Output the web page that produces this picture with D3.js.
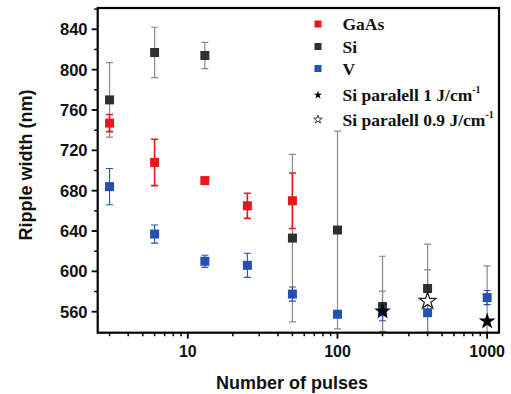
<!DOCTYPE html>
<html><head><meta charset="utf-8">
<script src="https://cdn.jsdelivr.net/npm/d3@7"></script>
<style>body{margin:0;background:#fff}svg{display:block}</style>
</head><body>
<svg id="c" width="511" height="394"></svg>
<script>
// ---- data ----
const gaasX = [3, 6, 13, 25, 50];
const gaasY = [747, 708, 690, 665, 670];
const gaasE = [8.5, 23, 2, 12.5, 27.5];

const siX = [3, 6, 13, 50, 100, 200, 400];
const siY = [770, 817, 814, 633, 641, 565, 583];
const siE = [37, 25, 13, 83, 98, 50, 44];

const vX = [3, 6, 13, 25, 50, 100, 200, 400, 1000];
const vY = [684, 637, 610, 606, 577.5, 557.5, 560, 559, 574];
const vE = [18, 9, 6, 12, 7, 2, 9, 3, 7];

const star1X = [200, 1000];
const star1Y = [560.5, 550.5];
const star1E = [20, 55];

const star2X = [400];
const star2Y = [570.5];
const star2E = [31];

const yTicks = [560, 600, 640, 680, 720, 760, 800, 840];
const yMinor = [580, 620, 660, 700, 740, 780, 820, 860];
const xTicks = [10, 100, 1000];
const xMinor = [3,4,5,6,7,8,9,20,30,40,50,60,70,80,90,200,300,400,500,600,700,800,900];

const legendLabels = ["GaAs", "Si", "V", "Si paralell 1 J/cm", "Si paralell 0.9 J/cm"];

// ---- layout ----
const L = 97.7, R = 499, T = 8, B = 332.7;
const svg = d3.select("#c");
const x = d3.scaleLog().domain([2.5, 1200]).range([L, R]);
const y = d3.scaleLinear().domain([539.2, 861.1]).range([B, T]);

const RED = "#e8161d", DARK = "#303030", BLUE = "#2350b3";

svg.append("defs").append("clipPath").attr("id", "clip")
  .append("rect").attr("x", L).attr("y", T).attr("width", R - L).attr("height", B - T);

const plot = svg.append("g").attr("clip-path", "url(#clip)");

function zip(xs, ys, es) { return xs.map((v, i) => ({x: v, y: ys[i], e: es[i]})); }
const gaas = zip(gaasX, gaasY, gaasE);
const si = zip(siX, siY, siE);
const vv = zip(vX, vY, vE);
const s1 = zip(star1X, star1Y, star1E);
const s2 = zip(star2X, star2Y, star2E);

function errBars(data, color, w, cap) {
  const g = plot.append("g").attr("stroke", color).attr("stroke-width", w).attr("fill", "none");
  data.forEach(d => {
    g.append("line").attr("x1", x(d.x)).attr("x2", x(d.x)).attr("y1", y(d.y - d.e)).attr("y2", y(d.y + d.e));
    [d.y - d.e, d.y + d.e].forEach(v => {
      g.append("line").attr("x1", x(d.x) - cap).attr("x2", x(d.x) + cap).attr("y1", y(v)).attr("y2", y(v));
    });
  });
}
errBars(si, "#8a8a8a", 1.2, 3.5);
errBars(s1, "#8a8a8a", 1.2, 3.5);
errBars(s2, "#8a8a8a", 1.2, 3.5);
errBars(gaas, RED, 1.6, 3.5);
errBars(vv, BLUE, 1.1, 3.5);

function squares(data, color) {
  plot.append("g").selectAll("rect").data(data).join("rect")
    .attr("x", d => x(d.x) - 4.5).attr("y", d => y(d.y) - 4.5)
    .attr("width", 9).attr("height", 9).attr("fill", color);
}
squares(gaas, RED);
squares(si, DARK);
squares(vv, BLUE);

const starBig = d3.symbol().type(d3.symbolStar).size(88);
plot.append("g").selectAll("path").data(s1).join("path")
  .attr("transform", d => `translate(${x(d.x)},${y(d.y)})`)
  .attr("d", starBig).attr("fill", "#000");
plot.append("g").selectAll("path").data(s2).join("path")
  .attr("transform", d => `translate(${x(d.x)},${y(d.y)})`)
  .attr("d", starBig).attr("fill", "#fff").attr("stroke", "#222").attr("stroke-width", 1.2);

// ---- axes ----
const ax = svg.append("g").attr("stroke", "#000");
ax.append("rect").attr("x", L).attr("y", T).attr("width", R - L).attr("height", B - T)
  .attr("fill", "none").attr("stroke-width", 2.2);
yTicks.forEach(v => ax.append("line").attr("x1", L - 6).attr("x2", L).attr("y1", y(v)).attr("y2", y(v)).attr("stroke-width", 1.8));
yMinor.forEach(v => ax.append("line").attr("x1", L - 3.5).attr("x2", L).attr("y1", y(v)).attr("y2", y(v)).attr("stroke-width", 1.5));
xTicks.forEach(v => ax.append("line").attr("x1", x(v)).attr("x2", x(v)).attr("y1", B).attr("y2", B + 6).attr("stroke-width", 1.8));
xMinor.forEach(v => ax.append("line").attr("x1", x(v)).attr("x2", x(v)).attr("y1", B).attr("y2", B + 3.5).attr("stroke-width", 1.5));

const sans = "'Liberation Sans', Arial, sans-serif";
svg.append("g").selectAll("text").data(yTicks).join("text")
  .attr("x", 87.5).attr("y", d => y(d)).attr("dy", "0.36em").attr("text-anchor", "end")
  .attr("font-family", sans).attr("font-weight", "bold").attr("font-size", 16.5).attr("fill", "#111")
  .text(d => d);
svg.append("g").selectAll("text").data(xTicks).join("text")
  .attr("x", d => x(d)).attr("y", 357).attr("text-anchor", "middle")
  .attr("font-family", sans).attr("font-weight", "bold").attr("font-size", 16).attr("fill", "#111")
  .text(d => d);

svg.append("text").attr("x", 292).attr("y", 389).attr("text-anchor", "middle")
  .attr("font-family", sans).attr("font-weight", "bold").attr("font-size", 18).attr("fill", "#111")
  .text("Number of pulses");
svg.append("text").attr("transform", "translate(31.5,165) rotate(-90)").attr("text-anchor", "middle")
  .attr("font-family", sans).attr("font-weight", "bold").attr("font-size", 18).attr("fill", "#111")
  .text("Ripple width (nm)");

// ---- legend ----
const serif = "'Liberation Serif', 'Times New Roman', serif";
const rowsY = [24, 46.5, 68.5, 95, 119.5];
const lg = svg.append("g");
[RED, DARK, BLUE].forEach((c, i) => {
  lg.append("rect").attr("x", 314.5).attr("y", rowsY[i] - 3.5).attr("width", 7).attr("height", 7).attr("fill", c);
});
const starSmall = d3.symbol().type(d3.symbolStar).size(22);
lg.append("path").attr("transform", `translate(318,${rowsY[3]})`).attr("d", starSmall).attr("fill", "#000");
lg.append("path").attr("transform", `translate(318,${rowsY[4]})`).attr("d", starSmall).attr("fill", "#fff").attr("stroke", "#333").attr("stroke-width", 0.9);
legendLabels.forEach((t, i) => {
  const tx = lg.append("text").attr("x", 342.5).attr("y", rowsY[i] + 6)
    .attr("font-family", serif).attr("font-weight", "bold").attr("font-size", 17.5).attr("fill", "#111");
  tx.append("tspan").text(t);
  if (i >= 3) tx.append("tspan").attr("dy", -8).attr("font-size", 10).text("-1");
});
</script>
</body></html>
